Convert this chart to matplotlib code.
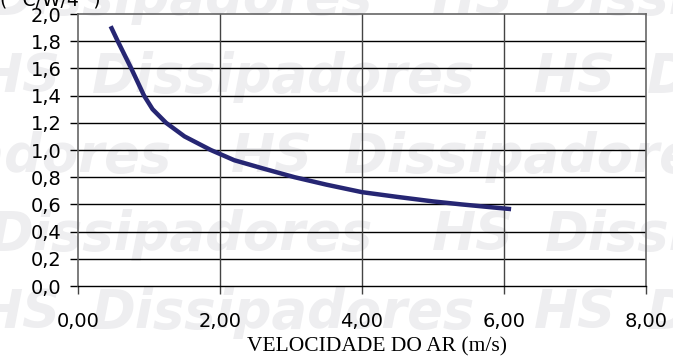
import matplotlib
matplotlib.use("Agg")
from matplotlib import pyplot as plt
import numpy as np

# air velocity (m/s) vs thermal resistance
vel = [0.46, 0.56, 0.75, 0.93, 1.05, 1.24, 1.50, 1.87, 2.20, 2.60, 3.05, 3.50, 4.00, 4.50, 5.00, 5.40, 6.10]
res = [1.91, 1.80, 1.60, 1.40, 1.30, 1.20, 1.10, 1.00, 0.925, 0.865, 0.80, 0.745, 0.69, 0.655, 0.622, 0.60, 0.565]

x_ticks = [0, 2, 4, 6, 8]
x_labels = ["0,00", "2,00", "4,00", "6,00", "8,00"]
y_ticks = [0.0, 0.2, 0.4, 0.6, 0.8, 1.0, 1.2, 1.4, 1.6, 1.8, 2.0]
y_labels = ["0,0", "0,2", "0,4", "0,6", "0,8", "1,0", "1,2", "1,4", "1,6", "1,8", "2,0"]

W, H = 673, 358
fig = plt.figure(figsize=(W / 100, H / 100), dpi=100)
fig.patch.set_facecolor("white")

# faint "HS Dissipadores" watermark, rows in figure pixels (baseline y, start x of "Dissipadores")
wm_rows = [(14, -10), (92, 92), (172, 344), (250, -10), (328, 92)]
period = 555
wm_style = dict(fontsize=38, family="DejaVu Sans", weight="bold", style="oblique",
                color="#eeeef0", ha="left", va="baseline", zorder=-5)
for base, x0 in wm_rows:
    for k in range(-1, 2):
        xd = x0 + k * period
        if -380 < xd < W:
            fig.text(xd / W, 1 - base / H, "Dissipadores", **wm_style)
        if -80 < xd + 442 < W:
            fig.text((xd + 442) / W, 1 - base / H, "HS", **wm_style)

ax = fig.add_axes([78 / W, 1 - 286 / H, (646 - 78) / W, (286 - 14) / H])
ax.set_facecolor("none")

ax.plot(vel, res, color="#262673", linewidth=3.2, solid_joinstyle="round", solid_capstyle="butt", zorder=3)

ax.set_xlim(0, 8)
ax.set_ylim(0, 2)
ax.set_xticks(x_ticks)
ax.set_xticklabels(x_labels)
ax.set_yticks(y_ticks)
ax.set_yticklabels(y_labels)

for y in y_ticks[1:-1]:
    ax.axhline(y, color="black", linewidth=1.0, zorder=1)
for x in x_ticks[1:-1]:
    ax.axvline(x, color="#444444", linewidth=1.0, zorder=1)

for s in ["left", "top", "right"]:
    ax.spines[s].set_color("#666666")
    ax.spines[s].set_linewidth(1.2)
ax.spines["bottom"].set_color("black")
ax.spines["bottom"].set_linewidth(1.0)

ax.tick_params(axis="x", direction="out", length=6, width=1, color="#444444",
               labelsize=14, pad=13)
ax.tick_params(axis="y", direction="out", length=6, width=1, color="black",
               labelsize=14, pad=6)
for t in ax.get_xticklabels() + ax.get_yticklabels():
    t.set_family("DejaVu Sans")

fig.text(377 / W, 1 - 347 / H, "VELOCIDADE DO AR (m/s)", family="Liberation Serif",
         fontsize=15.5, ha="center", va="center")
fig.text(0, 1 - 5 / H, "( °C/W/4\" )", family="DejaVu Sans", fontsize=13.5,
         ha="left", va="baseline")

fig.savefig("out.png", dpi=100)
